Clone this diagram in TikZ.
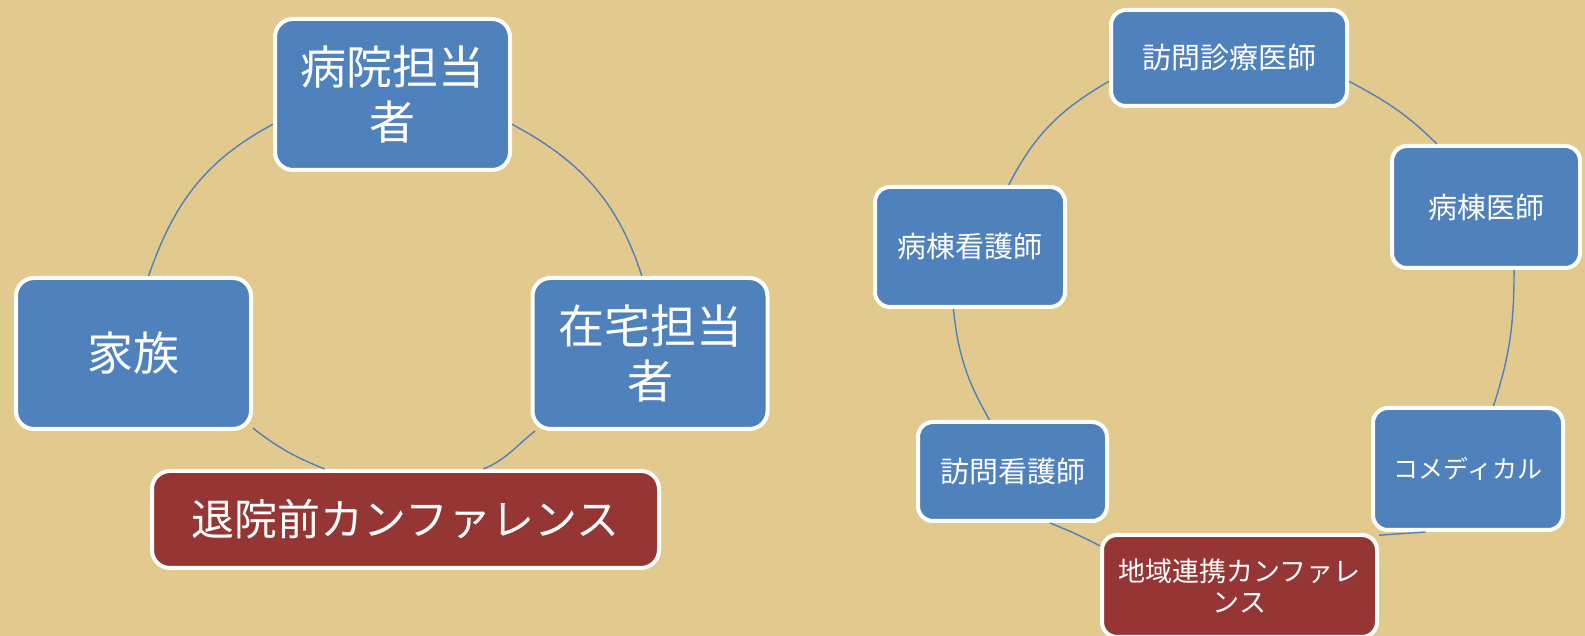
\documentclass[tikz,border=0pt]{standalone}
\usepackage{fontspec}
\setmainfont{Noto Sans CJK JP}
\definecolor{papyrus}{RGB}{226,201,142}
\definecolor{boxblue}{RGB}{79,129,189}
\definecolor{boxred}{RGB}{149,54,52}
\tikzset{
  bluebox/.style={draw=white, line width=4pt, fill=boxblue, rounded corners=18pt, text=white, align=center, inner sep=0pt},
  redbox/.style={bluebox, fill=boxred},
  bigtext/.style={font=\fontsize{46}{55}\selectfont},
  smalltext/.style={font=\fontsize{29}{31}\selectfont},
  link/.style={draw=boxblue, line width=1.4pt}
}
\begin{document}
\begin{tikzpicture}[x=1pt,y=1pt]
\useasboundingbox (0,0) rectangle (1585,636);
\clip (0,0) rectangle (1585,636);
\fill[papyrus] (0,0) rectangle (1585,636);
% left cycle
\node[bluebox,bigtext,minimum width=235pt,minimum height=151pt] (hospital) at (392.5,541.5) {病院担当\\者};
\node[bluebox,bigtext,minimum width=235pt,minimum height=151pt] (family) at (133.5,282.5) {家族};
\node[bluebox,bigtext,minimum width=235pt,minimum height=151pt] (homecare) at (650,282.5) {在宅担当\\者};
\node[redbox,font=\fontsize{43}{50}\selectfont,minimum width=507pt,minimum height=97pt] (discharge) at (405.5,116.5) {退院前カンファレンス};
\draw[link] (hospital.194.5) to[out=208,in=71] (family.79);
\draw[link] (hospital.-14.5) to[out=-28,in=108] (homecare.96);
\draw[link] (family.-32) to[out=-38,in=158] (discharge.148);
\draw[link] (homecare.214) to[out=-142,in=22] (discharge.33);
% right cycle
\node[bluebox,smalltext,rounded corners=15pt,minimum width=236pt,minimum height=96pt] (visitdoc) at (1229,578) {訪問診療医師};
\node[bluebox,smalltext,rounded corners=15pt,minimum width=188pt,minimum height=122pt] (warddoc) at (1486,429) {病棟医師};
\node[bluebox,font=\fontsize{25}{29}\selectfont,rounded corners=15pt,minimum width=190pt,minimum height=122pt] (comedical) at (1468,167) {コメディカル};
\node[redbox,font=\fontsize{27}{31}\selectfont,rounded corners=15pt,minimum width=275pt,minimum height=102pt] (regional) at (1239.5,50) {地域連携カンファレ\\ンス};
\node[bluebox,smalltext,rounded corners=15pt,minimum width=189pt,minimum height=99pt] (visitnurse) at (1012.5,164.5) {訪問看護師};
\node[bluebox,smalltext,rounded corners=15pt,minimum width=190pt,minimum height=120pt] (wardnurse) at (970,389) {病棟看護師};
\draw[link] (wardnurse.58) to[out=63,in=210] (visitdoc.191.5);
\draw[link] (visitdoc.-11.5) to[out=-28,in=135] (warddoc.128);
\draw[link] (warddoc.-66) to[out=-90,in=72] (comedical.68);
\draw[link] (comedical.236) -- (regional.20);
\draw[link] (regional.164) to[out=152,in=-22] (visitnurse.-54);
\draw[link] (visitnurse.114) to[out=120,in=-84] (wardnurse.255);
\end{tikzpicture}
\end{document}
